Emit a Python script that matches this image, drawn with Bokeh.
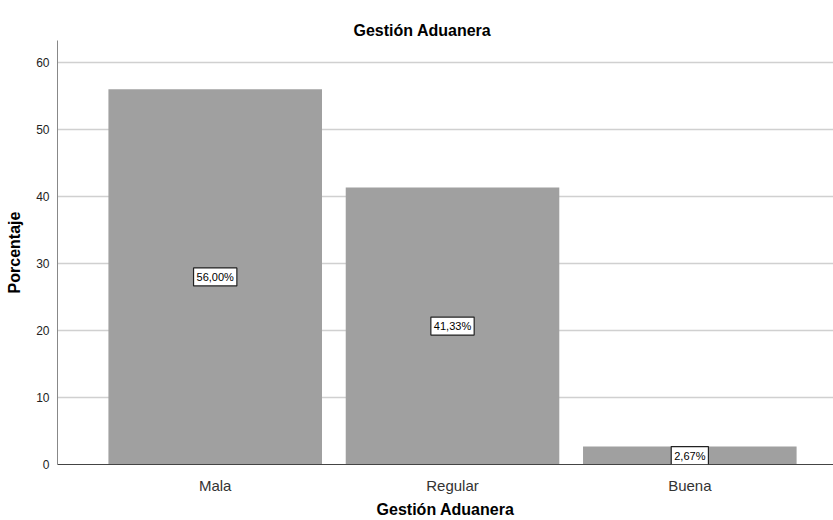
from bokeh.plotting import figure
from bokeh.models import Range1d, FixedTicker, Label, Title, ColumnDataSource
from bokeh.embed import file_html
from bokeh.resources import INLINE

categories = ["Mala", "Regular", "Buena"]
percentages = [56.00, 41.33, 2.67]
bar_labels = ["56,00%", "41,33%", "2,67%"]
y_ticks = [0, 10, 20, 30, 40, 50, 60]

FONT = "Liberation Sans"

xs = list(range(1, len(categories) + 1))
src = ColumnDataSource(dict(x=xs, top=percentages))

p = figure(width=833, height=520, output_backend="svg", toolbar_location=None,
           x_range=Range1d(0.3354, 3.6055), y_range=Range1d(0, 63.29),
           min_border_left=57, min_border_right=0, min_border_top=40,
           min_border_bottom=56)

p.title = Title(text="Gestión Aduanera", align="left", offset=296,
                text_font=FONT, text_font_size="16px", text_font_style="bold",
                text_color="#000000", standoff=3)

p.vbar(x="x", top="top", width=0.9, bottom=0, source=src,
       fill_color="#a0a0a0", line_color=None)

for xv, v, lab in zip(xs, percentages, bar_labels):
    p.add_layout(Label(x=xv, y=v / 2, text=lab, text_align="center",
                       text_baseline="middle", text_font=FONT,
                       text_font_size="11px", text_color="#000000",
                       background_fill_color="white",
                       border_line_color="#222222", border_line_width=1.2,
                       padding=3))

p.outline_line_color = None
p.xgrid.visible = False
p.ygrid.ticker = FixedTicker(ticks=y_ticks)
p.ygrid.grid_line_color = "#d0d0d0"
p.ygrid.grid_line_width = 1.5

p.yaxis.ticker = FixedTicker(ticks=y_ticks)
p.yaxis.axis_line_color = "#888888"
p.yaxis.major_tick_line_color = None
p.yaxis.minor_tick_line_color = None
p.yaxis.major_label_text_font = FONT
p.yaxis.major_label_text_font_size = "12px"
p.yaxis.major_label_text_color = "#222222"
p.yaxis.major_label_standoff = 2
p.yaxis.axis_label = "Porcentaje"
p.yaxis.axis_label_text_font = FONT
p.yaxis.axis_label_text_font_size = "16px"
p.yaxis.axis_label_text_font_style = "bold"
p.yaxis.axis_label_text_color = "#000000"
p.yaxis.axis_label_standoff = 10

p.xaxis.ticker = FixedTicker(ticks=xs)
p.xaxis.major_label_overrides = {x: c for x, c in zip(xs, categories)}
p.xaxis.axis_line_color = "#444444"
p.xaxis.major_tick_line_color = None
p.xaxis.minor_tick_line_color = None
p.xaxis.major_label_text_font = FONT
p.xaxis.major_label_text_font_size = "15px"
p.xaxis.major_label_text_color = "#333333"
p.xaxis.major_label_standoff = 6
p.xaxis.axis_label = "Gestión Aduanera"
p.xaxis.axis_label_text_font = FONT
p.xaxis.axis_label_text_font_size = "16px"
p.xaxis.axis_label_text_font_style = "bold"
p.xaxis.axis_label_text_color = "#000000"
p.xaxis.axis_label_standoff = 4

open("out.html", "w").write(file_html(p, INLINE))
